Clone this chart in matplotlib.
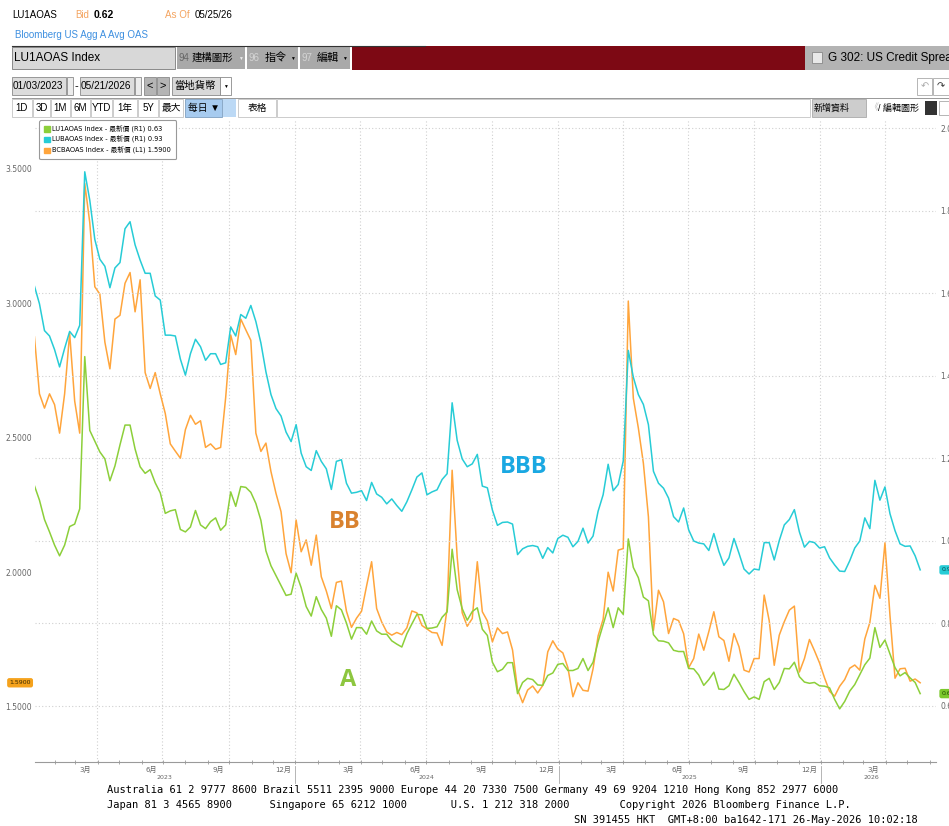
import numpy as np
import pandas as pd
import matplotlib
matplotlib.use('Agg')
import matplotlib.pyplot as plt
import matplotlib.dates as mdates
import matplotlib.transforms as mtrans
from matplotlib import font_manager
from matplotlib.patches import Rectangle, Patch

plt.rcParams['font.family'] = ['DejaVu Sans', 'Noto Sans CJK TC']

# weekly readings, 2023-01-03 .. 2026-05-19
dates = pd.date_range('2023-01-03', periods=177, freq='7D')

# A avg OAS (right axis)
a_oas = [1.134, 1.099, 1.052, 1.022, 0.990, 0.964, 0.990, 1.035, 1.041, 1.078,
         1.447, 1.268, 1.242, 1.216, 1.199, 1.146, 1.182, 1.233, 1.281, 1.281,
         1.223, 1.180, 1.164, 1.173, 1.141, 1.117, 1.067, 1.073, 1.076, 1.028,
         1.022, 1.034, 1.074, 1.039, 1.030, 1.047, 1.056, 1.026, 1.039, 1.119,
         1.084, 1.132, 1.130, 1.118, 1.091, 1.050, 0.976, 0.940, 0.916, 0.892,
         0.868, 0.871, 0.922, 0.887, 0.841, 0.818, 0.865, 0.834, 0.813, 0.769,
         0.843, 0.833, 0.801, 0.762, 0.790, 0.790, 0.774, 0.806, 0.782, 0.774,
         0.774, 0.758, 0.750, 0.743, 0.775, 0.799, 0.822, 0.821, 0.788, 0.789,
         0.792, 0.815, 0.828, 0.980, 0.882, 0.836, 0.808, 0.829, 0.838, 0.786,
         0.771, 0.706, 0.683, 0.689, 0.705, 0.705, 0.630, 0.657, 0.667, 0.664,
         0.651, 0.650, 0.674, 0.680, 0.701, 0.703, 0.686, 0.686, 0.691, 0.715,
         0.686, 0.706, 0.756, 0.797, 0.838, 0.790, 0.838, 0.822, 1.005, 0.936,
         0.911, 0.864, 0.855, 0.773, 0.758, 0.757, 0.753, 0.735, 0.732, 0.732,
         0.691, 0.690, 0.675, 0.650, 0.664, 0.682, 0.641, 0.640, 0.649, 0.677,
         0.657, 0.635, 0.616, 0.622, 0.616, 0.659, 0.667, 0.640, 0.657, 0.691,
         0.690, 0.706, 0.671, 0.658, 0.655, 0.657, 0.649, 0.648, 0.644, 0.616,
         0.593, 0.611, 0.636, 0.652, 0.676, 0.700, 0.716, 0.790, 0.742, 0.760,
         0.726, 0.693, 0.673, 0.681, 0.668, 0.657, 0.630]

# BBB avg OAS (right axis)
bbb_oas = [1.618, 1.575, 1.510, 1.497, 1.464, 1.422, 1.467, 1.508, 1.493, 1.523,
           1.895, 1.826, 1.731, 1.683, 1.666, 1.614, 1.662, 1.675, 1.757, 1.774,
           1.718, 1.681, 1.649, 1.649, 1.594, 1.584, 1.499, 1.499, 1.497, 1.441,
           1.402, 1.454, 1.489, 1.471, 1.438, 1.454, 1.454, 1.428, 1.432, 1.519,
           1.497, 1.549, 1.540, 1.571, 1.532, 1.480, 1.410, 1.355, 1.321, 1.303,
           1.264, 1.241, 1.282, 1.213, 1.180, 1.171, 1.219, 1.193, 1.175, 1.125,
           1.193, 1.197, 1.140, 1.116, 1.118, 1.122, 1.098, 1.142, 1.114, 1.106,
           1.090, 1.102, 1.086, 1.072, 1.095, 1.124, 1.155, 1.165, 1.112, 1.119,
           1.124, 1.149, 1.163, 1.335, 1.244, 1.199, 1.180, 1.187, 1.210, 1.133,
           1.129, 1.075, 1.038, 1.045, 1.046, 1.041, 0.967, 0.981, 0.987, 0.989,
           0.986, 0.958, 0.984, 0.971, 1.006, 1.014, 1.009, 0.986, 0.999, 1.031,
           0.995, 1.012, 1.072, 1.112, 1.186, 1.122, 1.137, 1.194, 1.462, 1.397,
           1.355, 1.331, 1.282, 1.169, 1.140, 1.128, 1.104, 1.059, 1.046, 1.080,
           1.027, 1.000, 0.995, 0.993, 0.977, 1.018, 0.975, 0.941, 0.959, 1.006,
           0.970, 0.932, 0.920, 0.932, 0.930, 0.996, 0.996, 0.954, 1.001, 1.039,
           1.052, 1.076, 1.022, 0.985, 0.999, 0.996, 0.983, 0.986, 0.959, 0.942,
           0.927, 0.926, 0.952, 0.983, 1.000, 1.056, 1.030, 1.147, 1.099, 1.131,
           1.066, 1.025, 0.993, 0.987, 0.988, 0.964, 0.930]

# BB avg OAS (left axis)
bb_oas = [2.876, 2.664, 2.611, 2.664, 2.624, 2.518, 2.664, 2.889, 2.637, 2.518,
          3.446, 3.300, 3.062, 3.035, 2.856, 2.757, 2.942, 2.956, 3.075, 3.115,
          2.969, 3.088, 2.743, 2.684, 2.743, 2.664, 2.591, 2.478, 2.451, 2.425,
          2.531, 2.584, 2.551, 2.564, 2.465, 2.478, 2.458, 2.465, 2.650, 2.883,
          2.810, 2.942, 2.902, 2.863, 2.518, 2.450, 2.481, 2.375, 2.294, 2.226,
          2.070, 1.999, 2.195, 2.077, 2.121, 2.027, 2.139, 1.984, 1.931, 1.866,
          1.963, 1.968, 1.856, 1.796, 1.830, 1.856, 1.950, 2.040, 1.866, 1.816,
          1.779, 1.767, 1.777, 1.769, 1.794, 1.857, 1.850, 1.803, 1.790, 1.777,
          1.775, 1.729, 1.866, 2.380, 2.058, 1.850, 1.800, 1.829, 2.040, 1.854,
          1.820, 1.742, 1.794, 1.773, 1.779, 1.712, 1.565, 1.516, 1.563, 1.578,
          1.552, 1.580, 1.705, 1.746, 1.715, 1.701, 1.646, 1.538, 1.590, 1.562,
          1.559, 1.642, 1.764, 1.826, 2.001, 1.931, 2.083, 2.089, 3.009, 2.648,
          2.537, 2.406, 2.207, 1.785, 1.934, 1.891, 1.773, 1.829, 1.821, 1.772,
          1.646, 1.680, 1.771, 1.711, 1.780, 1.854, 1.761, 1.747, 1.670, 1.773,
          1.724, 1.637, 1.630, 1.680, 1.680, 1.916, 1.821, 1.655, 1.767, 1.817,
          1.860, 1.875, 1.630, 1.680, 1.751, 1.709, 1.664, 1.608, 1.558, 1.540,
          1.577, 1.602, 1.644, 1.656, 1.637, 1.753, 1.814, 1.952, 1.904, 2.110,
          1.839, 1.607, 1.642, 1.644, 1.596, 1.604, 1.590]

last_a, last_bbb, last_bb = 0.63, 0.93, 1.59
left_ticks = [1.5, 2.0, 2.5, 3.0, 3.5]
right_ticks = [0.6, 0.8, 1.0, 1.2, 1.4, 1.6, 1.8, 2.0]
years = [2023, 2024, 2025, 2026]
last_day = pd.Timestamp('2026-05-21')

c_a, c_bbb, c_bb = '#8ccf3a', '#27ccd6', '#ffa53c'

names = {f.name for f in font_manager.fontManager.ttflist}
NARROW = ['Liberation Sans Narrow' if 'Liberation Sans Narrow' in names else 'Liberation Sans',
          'Noto Sans CJK TC']

W, H = 949, 826
fig = plt.figure(figsize=(W / 100, H / 100), dpi=100)


def px(x0, y0, x1, y1):
    return [x0 / W, 1 - y1 / H, (x1 - x0) / W, (y1 - y0) / H]


# ---- chart ----
ax = fig.add_axes(px(35, 120, 936, 762))
ax2 = ax.twinx()

ax.plot(dates, bb_oas, color=c_bb, lw=1.1)
ax2.plot(dates, bbb_oas, color=c_bbb, lw=1.1)
ax2.plot(dates, a_oas, color=c_a, lw=1.1)

t0 = mdates.date2num(pd.Timestamp('2023-01-01'))
ax.set_xlim(t0 + 2.8, t0 + 1256.0)
ax.set_ylim(1.2955, 3.682)
ax2.set_ylim(0.4642, 2.0206)

for q in pd.date_range('2023-03-31', '2026-06-30', freq='QE'):
    ax.axvline(mdates.date2num(q), color='#d0d0d0', lw=0.8, ls=(0, (1, 2)), zorder=0)

ax2.set_yticks(right_ticks)
ax2.yaxis.set_major_formatter('{x:.4f}')
ax2.grid(axis='y', color='#d0d0d0', lw=0.8, ls=(0, (1, 2)))
ax2.set_axisbelow(True)
ax.set_yticks(left_ticks)
ax.yaxis.set_major_formatter('{x:.4f}')

for a in (ax, ax2):
    for s in ['top', 'left', 'right']:
        a.spines[s].set_visible(False)
ax2.spines['bottom'].set_visible(False)
ax.spines['bottom'].set_color('#9a9a9a')

ax.tick_params(axis='y', length=0, labelsize=5.5, labelcolor='#666', pad=2)
ax2.tick_params(axis='y', length=0, labelsize=5.5, labelcolor='#666', pad=3)
ax.xaxis.set_major_locator(mdates.MonthLocator(bymonth=[3, 6, 9, 12], bymonthday=15))
ax.xaxis.set_major_formatter(mdates.DateFormatter('%-m月'))
ax.xaxis.set_minor_locator(mdates.MonthLocator())
ax.tick_params(axis='x', which='major', length=0, labelsize=5, labelcolor='#666', pad=3)
ax.tick_params(axis='x', which='minor', length=3, direction='inout', color='#999', width=0.6)

trans = mtrans.blended_transform_factory(ax.transData, ax.transAxes)
for yr in years:
    lo = max(pd.Timestamp(f'{yr}-01-01'), dates[0])
    hi = min(pd.Timestamp(f'{yr}-12-31'), last_day)
    mid = lo + (hi - lo) / 2
    ax.text(mdates.date2num(mid), -0.024, str(yr), transform=trans, ha='center',
            va='center', fontsize=4.5, color='#666')
    if yr > years[0]:
        x = mdates.date2num(pd.Timestamp(f'{yr}-01-01'))
        ax.plot([x, x], [-0.006, -0.032], transform=trans, color='#aaa', lw=0.6, clip_on=False)

# last value tags
ax.annotate(f'{last_bb:.4f}', xy=(0, last_bb), xycoords=('axes fraction', 'data'),
            xytext=(-3, 0), textcoords='offset points', ha='right', va='center',
            fontsize=4.5, color='#3a2a00', annotation_clip=False,
            bbox=dict(boxstyle='round,pad=0.35', fc='#f5a21c', ec='none'))
ax2.annotate(f'{last_bbb:.4f}', xy=(1, last_bbb), xycoords=('axes fraction', 'data'),
             xytext=(4, 0), textcoords='offset points', ha='left', va='center',
             fontsize=4.5, color='#064a50', annotation_clip=False,
             bbox=dict(boxstyle='round,pad=0.35', fc='#27ccd6', ec='none'))
ax2.annotate(f'{last_a:.4f}', xy=(1, last_a), xycoords=('axes fraction', 'data'),
             xytext=(4, 0), textcoords='offset points', ha='left', va='center',
             fontsize=4.5, color='#1e4a00', annotation_clip=False,
             bbox=dict(boxstyle='round,pad=0.35', fc='#7cc82c', ec='none'))

handles = [Patch(color=c_a), Patch(color=c_bbb), Patch(color=c_bb)]
labels = [f'LU1AOAS Index - 最新價 (R1) {last_a:.2f}',
          f'LUBAOAS Index - 最新價 (R1) {last_bbb:.2f}',
          f'BCBAOAS Index - 最新價 (L1) {last_bb:.4f}']
leg = fig.legend(handles, labels, loc='upper left', bbox_to_anchor=(36 / W, 1 - 117 / H),
                 fontsize=4.8, handlelength=0.9, handleheight=0.9, handletextpad=0.3,
                 labelspacing=0.55, borderpad=0.75, fancybox=True, edgecolor='#999',
                 framealpha=1)
leg.get_frame().set_linewidth(0.8)

# ---- screen chrome (pixel coords) ----
ov = fig.add_axes([0, 0, 1, 1], zorder=5)
ov.set_xlim(0, W)
ov.set_ylim(H, 0)
ov.axis('off')
ov.patch.set_visible(False)


def box(x0, y0, x1, y1, fc, ec='none', lw=0.6):
    ov.add_patch(Rectangle((x0, y0), x1 - x0, y1 - y0, facecolor=fc, edgecolor=ec, lw=lw))


def txt(x, y, s, size, color='black', **kw):
    ov.text(x, y, s, fontsize=size, color=color, va='center', family=NARROW, **kw)


txt(12, 15, 'LU1AOAS', 7)
txt(75, 15, 'Bid', 7, '#f4a460')
txt(94, 15, '0.62', 7.5, weight='bold')
txt(165, 15, 'As Of', 7, '#f4a460')
txt(195, 15, '05/25/26', 7)
txt(15, 35, 'Bloomberg US Agg A Avg OAS', 7, '#3d8fe0')

ov.plot([12, 425], [45.5, 45.5], color='#333', lw=0.8)
box(12, 47, 175, 69, '#d8d8d8', '#7a7a7a')
txt(14, 58, 'LU1AOAS Index', 8.5)
box(177, 47, 245, 69, '#a9a9a9')
txt(179, 58, '94', 7, '#666')
txt(192, 58, '建構圖形', 7.5)
txt(238, 58, '▼', 3.5, '#eee')
box(247, 47, 298, 69, '#a9a9a9')
txt(249, 58, '96', 7, '#d4d4d4')
txt(265, 58, '指令', 8)
txt(290, 58, '▼', 3.5)
box(300, 47, 350, 69, '#a9a9a9')
txt(302, 58, '97', 7, '#d4d4d4')
txt(317, 58, '編輯', 8)
txt(342, 58, '▼', 3.5)
box(352, 46, 805, 70, '#7d0914')
box(805, 46, 949, 70, '#b3b3b3')
box(812, 52, 822, 63, '#e8e8e8', '#888')
txt(828, 58, 'G 302: US Credit Spread', 8.5)

box(12, 77, 66, 95, '#dcdcdc', '#8a8a8a')
txt(13, 86, '01/03/2023', 7.2)
box(67, 77, 73, 95, '#ececec', '#8a8a8a')
txt(75, 86, '-', 8)
box(80, 77, 134, 95, '#dcdcdc', '#8a8a8a')
txt(81, 86, '05/21/2026', 7.2)
box(135, 77, 141, 95, '#ececec', '#8a8a8a')
box(144, 77, 156, 95, '#b5b5b5', '#8a8a8a')
txt(150, 86, '<', 8, ha='center')
box(157, 77, 169, 95, '#b5b5b5', '#8a8a8a')
txt(163, 86, '>', 8, ha='center')
box(172, 77, 220, 95, '#d8d8d8', '#8a8a8a')
txt(174, 86, '當地貨幣', 7.5)
box(220, 77, 231, 95, 'white', '#8a8a8a')
txt(225.5, 86, '▼', 3.5, ha='center')
box(917, 78, 932, 95, 'white', '#aaa')
ov.text(924.5, 86, '↶', fontsize=7, color='#aaa', ha='center', va='center')
box(933, 78, 949, 95, 'white', '#aaa')
ov.text(941, 86, '↷', fontsize=7, color='#333', ha='center', va='center')
ov.plot([12, 949], [97.5, 97.5], color='#888', lw=0.6)

for lab, x0, x1 in [('1D', 12, 32), ('3D', 33, 50), ('1M', 51, 70), ('6M', 71, 90),
                    ('YTD', 91, 112), ('1年', 113, 137), ('5Y', 138, 158), ('最大', 159, 183)]:
    box(x0, 99, x1, 117, 'white', '#c4c4c4')
    txt((x0 + x1) / 2, 108, lab, 7, ha='center')
box(185, 99, 222, 117, '#a7cbef', '#7f9fc0')
txt(188, 108, '每日 ▼', 7)
box(223, 99, 236, 117, '#bcd9f5')
box(238, 99, 276, 117, 'white', '#c4c4c4')
txt(257, 108, '表格', 7, ha='center')
box(277, 99, 810, 117, 'white', '#c4c4c4')
box(812, 99, 866, 117, '#cdcdcd', '#aaa')
txt(814, 108, '新增資料', 6.5)
txt(869, 108, '《', 6.5, '#bbb')
txt(878, 108, '/ 編輯圖形', 6.5)
box(925, 101, 937, 115, '#333')
box(939, 101, 949, 115, 'white', '#aaa')

# hand-written series tags
ov.text(524, 467, 'BBB', color='#1aa8e2', fontsize=17, fontweight='bold',
        ha='center', va='center', family='Open Sans')
ov.text(345, 522, 'BB', color='#d9822f', fontsize=17, fontweight='bold',
        ha='center', va='center', family='Open Sans')
ov.text(348, 680, 'A', color='#8dc63f', fontsize=17, fontweight='bold',
        ha='center', va='center', family='Open Sans')

MONO = 'DejaVu Sans Mono'
ov.text(107, 790, 'Australia 61 2 9777 8600 Brazil 5511 2395 9000 Europe 44 20 7330 7500 '
        'Germany 49 69 9204 1210 Hong Kong 852 2977 6000', fontsize=7.5, family=MONO, va='center')
ov.text(107, 805, 'Japan 81 3 4565 8900      Singapore 65 6212 1000       '
        'U.S. 1 212 318 2000        Copyright 2026 Bloomberg Finance L.P.',
        fontsize=7.5, family=MONO, va='center')
ov.text(918, 820, 'SN 391455 HKT  GMT+8:00 ba1642-171 26-May-2026 10:02:18',
        fontsize=7.5, family=MONO, va='center', ha='right')

fig.savefig('out.png', dpi=100)
